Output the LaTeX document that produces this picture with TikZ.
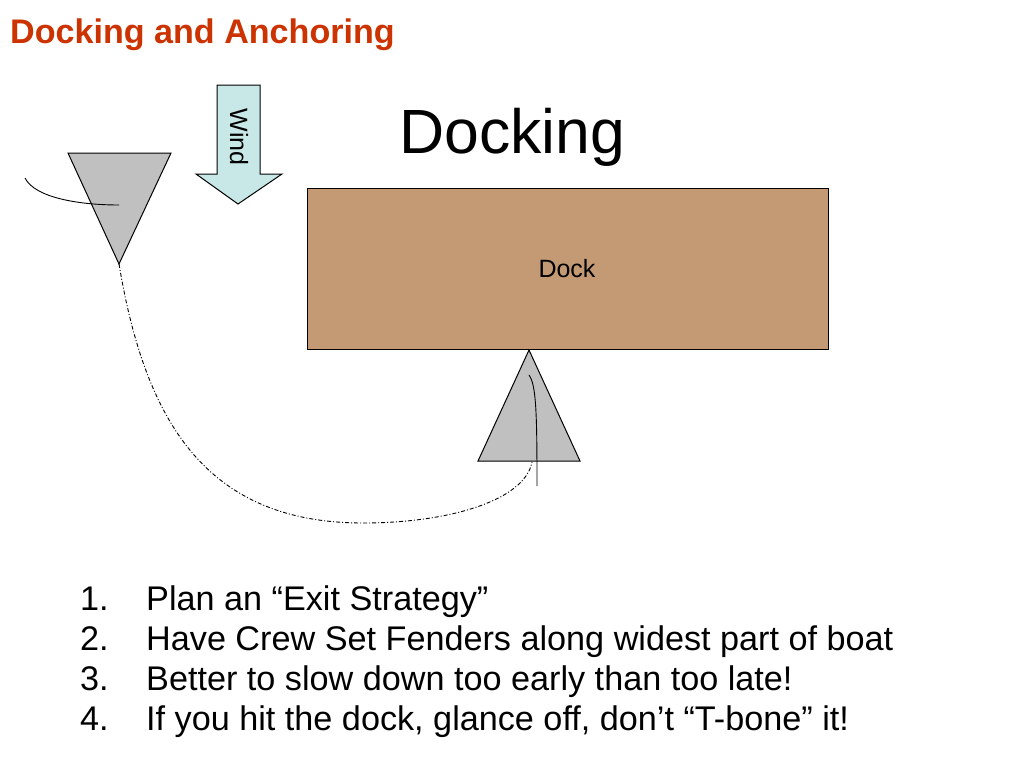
\documentclass[tikz,border=0pt]{standalone}
\usepackage{fontspec}
\setmainfont{Liberation Sans}
\definecolor{hdr}{RGB}{204,51,0}
\definecolor{dockfill}{RGB}{196,154,116}
\definecolor{boatfill}{RGB}{192,192,192}
\definecolor{windfill}{RGB}{200,232,232}
\begin{document}
\begin{tikzpicture}[x=1pt,y=-1pt,
  boat/.style={draw=black,line width=1pt,fill=boatfill,line join=miter},
  wake/.style={draw=black,line width=0.9pt},
  course/.style={draw=black,line width=0.9pt,dash pattern=on 4pt off 2pt on 1pt off 2pt},
  listnum/.style={anchor=base west,inner sep=0pt,font=\fontsize{34.2}{40}\selectfont},
  listtxt/.style={anchor=base west,inner sep=0pt,font=\fontsize{34.2}{40}\selectfont}]
\useasboundingbox (0,0) rectangle (1024,768);
\fill[white] (0,0) rectangle (1024,768);

% header
\node[anchor=base west,inner sep=0pt,text=hdr,font=\fontsize{34.1}{40}\selectfont\bfseries] (hdr) at (10,44) {Docking and Anchoring};
% title
\node[anchor=base west,inner sep=0pt,font=\fontsize{62.5}{70}\selectfont] (title) at (399,153) {Docking};

% dock
\node[draw=black,line width=1pt,fill=dockfill,minimum width=521pt,minimum height=161pt,inner sep=0pt,anchor=north west] (dock) at (307,188) {};
\node[font=\fontsize{25}{30}\selectfont,inner sep=0pt] (docklbl) at (567,269) {Dock};

% wind arrow
\draw[line width=1pt,fill=windfill,line join=miter] (217,85) -- (260,85) -- (260,174) -- (282,174) -- (238,204) -- (196,174) -- (217,174) -- cycle;
\node[rotate=-90,inner sep=0pt,font=\fontsize{25}{30}\selectfont] (wind) at (239,137) {Wind};

% boat 1 (top left)
\coordinate (b1a) at (68,153);
\coordinate (b1b) at (171,153);
\coordinate (b1tip) at (119,264);
\draw[boat] (b1a) -- (b1b) -- (b1tip) -- cycle;
\coordinate (w1s) at (25,178);
\coordinate (w1e) at (119,205);
\draw[wake] (w1s) .. controls (35,198) and (80,205) .. (w1e);

% boat 2 (bottom)
\coordinate (b2a) at (478,461);
\coordinate (b2b) at (580,461);
\coordinate (b2tip) at (529,350);
\draw[boat] (b2a) -- (b2b) -- (b2tip) -- cycle;
\coordinate (w2s) at (529,375);
\coordinate (w2e) at (537,486);
\draw[wake] (w2s) .. controls (536,385) and (537,410) .. (w2e);

% course
\coordinate (cmid) at (363,523);
\coordinate (cend) at (532,462);
\draw[course] (b1tip) .. controls (145,420) and (205,523) .. (cmid) .. controls (450,523) and (525,500) .. (cend);

% list
\node[listnum] (n1) at (80,610) {1.};
\node[listtxt] (t1) at (146,610) {Plan an “Exit Strategy”};
\node[listnum] (n2) at (80,650) {2.};
\node[listtxt] (t2) at (146,650) {Have Crew Set Fenders along widest part of boat};
\node[listnum] (n3) at (80,690) {3.};
\node[listtxt] (t3) at (146,690) {Better to slow down too early than too late!};
\node[listnum] (n4) at (80,730) {4.};
\node[listtxt] (t4) at (146,730) {If you hit the dock, glance off, don’t “T-bone” it!};
\end{tikzpicture}
\end{document}
